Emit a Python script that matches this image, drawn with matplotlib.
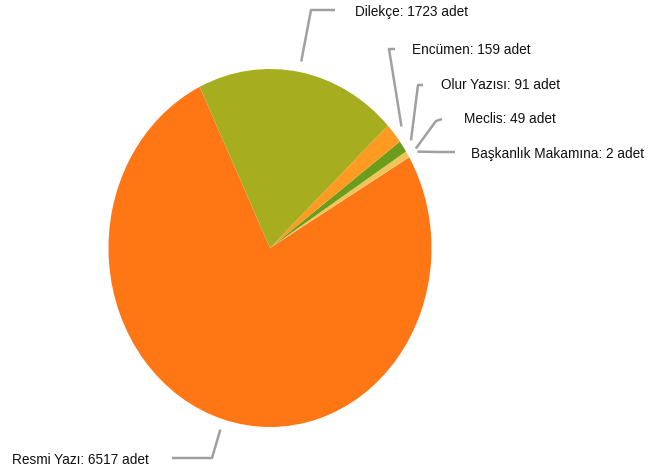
import matplotlib
matplotlib.use("Agg")
import matplotlib.pyplot as plt
import numpy as np

# slices in drawing order (counter-clockwise from the top-left edge)
labels = ["Resmi Yazı", "Başkanlık Makamına", "Meclis", "Olur Yazısı", "Encümen", "Dilekçe"]
counts = [6517, 2, 49, 91, 159, 1723]
colors = ["#FF7614", "#FFE08A", "#F2C55A", "#6C9C1C", "#FF9B22", "#A6AD1F"]

# label layout: (elbow, line end, text pos) in figure pixels
label_layout = {
    "Dilekçe":            ((311, 10), (335, 10), (355, 12)),
    "Encümen":            ((389, 49), (395, 49), (412, 50)),
    "Olur Yazısı":        ((418, 85), (423, 85), (441, 85)),
    "Meclis":             ((436, 121), (442, 119), (464, 119)),
    "Başkanlık Makamına": ((438, 152), (455, 152), (471, 154)),
    "Resmi Yazı":         ((212, 458), (172, 458), (12, 460)),
}

W, H = 649, 476
fig = plt.figure(figsize=(W / 100, H / 100), dpi=100)

# pie axes placed on the ellipse bounding box (slightly taller than wide)
cx, cy, rx, ry = 270, 248, 161.5, 179
pax = fig.add_axes([(cx - rx) / W, 1 - (cy + ry) / H, 2 * rx / W, 2 * ry / H])
total = sum(counts)
start = 115.8
wedges, _ = pax.pie(counts, colors=colors, startangle=start, counterclock=True,
                    wedgeprops=dict(linewidth=0))
pax.set_aspect("auto")
pax.set_xlim(-1, 1)
pax.set_ylim(-1, 1)
pax.axis("off")

# overlay axes in pixel coordinates for leader lines and text
ax = fig.add_axes([0, 0, 1, 1])
ax.set_xlim(0, W)
ax.set_ylim(H, 0)
ax.axis("off")

fig.canvas.draw()
angle = start
for lab, n in zip(labels, counts):
    span = 360.0 * n / total
    mid = np.deg2rad(angle + span / 2)
    angle += span
    px, py = pax.transData.transform((1.06 * np.cos(mid), 1.06 * np.sin(mid)))
    ax0 = px
    ay0 = H - py
    elbow, end, tpos = label_layout[lab]
    ax.plot([ax0, elbow[0], end[0]], [ay0, elbow[1], end[1]], color="#a0a0a0", lw=1.8,
            solid_capstyle="butt")
    ax.text(tpos[0], tpos[1], f"{lab}: {n} adet", fontsize=9.8, family="Liberation Sans",
            color="#111111", va="center", ha="left")

plt.savefig("out.png", dpi=100)
